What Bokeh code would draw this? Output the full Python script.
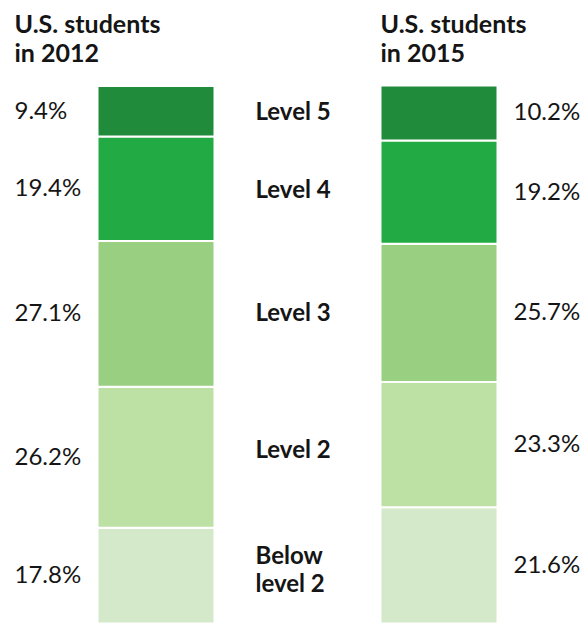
import numpy as np
from bokeh.plotting import figure
from bokeh.models import Range1d, ColumnDataSource
from bokeh.core.properties import value
from bokeh.embed import file_html
from bokeh.resources import INLINE

# Data (stacked from bottom)
levels = ["Below\nlevel 2", "Level 2", "Level 3", "Level 4", "Level 5"]
pct_2012 = [17.8, 26.2, 27.1, 19.4, 9.4]
pct_2015 = [21.6, 23.3, 25.7, 19.2, 10.2]
colors = ["#d4e9c9", "#bde1a4", "#99cf81", "#22aa44", "#218b3c"]
title_line1 = ["U.S. students", "U.S. students"]
title_line2 = ["in 2012", "in 2015"]

W, H = 584, 623
top_px = 85
scale = (H - top_px) / 100.0
y_end = 100 + top_px / scale

def py(px):
    """page pixel (from top) -> data y"""
    return y_end - px / scale

p = figure(width=W, height=H, output_backend="svg", toolbar_location=None,
           x_range=Range1d(0, W), y_range=Range1d(0, y_end),
           min_border=0, outline_line_color=None)
p.axis.visible = False
p.grid.visible = False
p.background_fill_color = "white"
p.border_fill_color = "white"

font = value("Lato")
txt_color = "#151515"

def stack(vals):
    tops = np.cumsum(vals)
    bottoms = tops - np.array(vals)
    return bottoms, tops

b12, t12 = stack(pct_2012)
b15, t15 = stack(pct_2015)
x12, x15, bw = 155.5, 438.5, 117

for xc, b, t in [(x12, b12, t12), (x15, b15, t15)]:
    src = ColumnDataSource(dict(x=[xc] * len(b), bottom=b, top=t, color=colors))
    p.vbar(x="x", bottom="bottom", top="top", width=bw, fill_color="color",
           line_color="white", line_width=2, source=src)

mid12 = (b12 + t12) / 2
mid15 = (b15 + t15) / 2
nudge = 2 / scale

# left percentages
p.text(x=[14] * 5, y=mid12 + nudge, text=[f"{v}%" for v in pct_2012],
       text_font=font, text_font_size="24px", text_color=txt_color,
       text_align="left", text_baseline="middle")
# right percentages
p.text(x=[513] * 5, y=mid15 + nudge, text=[f"{v}%" for v in pct_2015],
       text_font=font, text_font_size="24px", text_color=txt_color,
       text_align="left", text_baseline="middle")
# level labels
p.text(x=[255] * 5, y=(mid12 + mid15) / 2 + nudge, text=levels,
       text_font=font, text_font_size="24px", text_font_style="bold",
       text_color=txt_color, text_align="left", text_baseline="middle",
       text_line_height=0.97)

# titles
p.text(x=[14, 380], y=[py(22)] * 2, text=title_line1,
       text_font=font, text_font_size="25px", text_font_style="bold",
       text_color=txt_color, text_align="left", text_baseline="alphabetic")
p.text(x=[14, 380], y=[py(51)] * 2, text=title_line2,
       text_font=font, text_font_size="25px", text_font_style="bold",
       text_color=txt_color, text_align="left", text_baseline="alphabetic")

open("out.html", "w").write(file_html(p, INLINE))
